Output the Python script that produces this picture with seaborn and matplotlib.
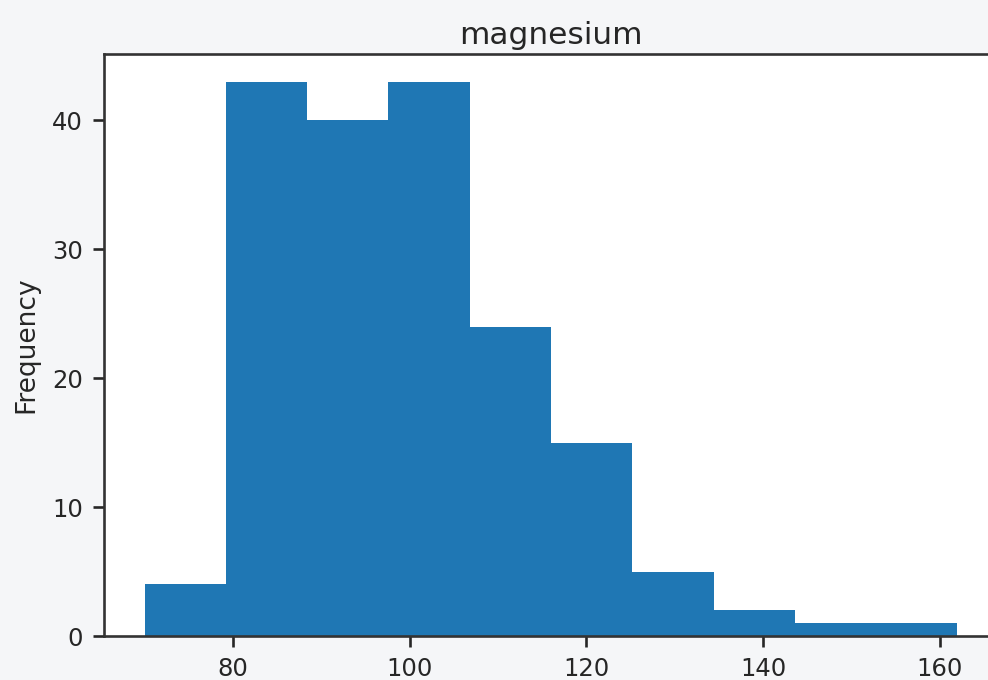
import numpy as np
import pandas as pd
import matplotlib
matplotlib.use("Agg")
import matplotlib.pyplot as plt
import seaborn as sns

# Histogram of magnesium: 10 equal bins between 70 and 162
bin_edges = [70.0, 79.2, 88.4, 97.6, 106.8, 116.0, 125.2, 134.4, 143.6, 152.8, 162.0]
counts = [4, 43, 40, 43, 24, 15, 5, 2, 1, 1]
x_ticks = [80, 100, 120, 140, 160]
y_ticks = [0, 10, 20, 30, 40]

edges = np.array(bin_edges)
df = pd.DataFrame({
    "magnesium": (edges[:-1] + edges[1:]) / 2,
    "count": counts,
})

bg = "#f5f6f8"
fig = plt.figure(figsize=(9.88, 6.8), dpi=100, facecolor=bg)
ax = fig.add_axes([104 / 988, 44 / 680, 894 / 988, 582 / 680])
ax.set_facecolor("white")

sns.histplot(data=df, x="magnesium", weights="count", bins=bin_edges,
             color="#1f77b4", alpha=1.0, linewidth=0, edgecolor="none", ax=ax)

lo, hi = bin_edges[0], bin_edges[-1]
pad = (hi - lo) * 0.05
ax.set_xlim(lo - pad, hi + pad)
ax.set_ylim(0, max(counts) * 1.05)
ax.set_xticks(x_ticks)
ax.set_yticks(y_ticks)

ax.set_title("magnesium", fontsize=22.5, color="#262626", pad=7)
ax.set_xlabel("")
ax.set_ylabel("Frequency", fontsize=19, color="#262626", labelpad=9)
ax.tick_params(labelsize=17.5, length=8, width=1.9, pad=7, colors="#262626")
for s in ax.spines.values():
    s.set_linewidth(1.9)
    s.set_color("#333333")

fig.savefig("out.png", dpi=100, facecolor=bg)
